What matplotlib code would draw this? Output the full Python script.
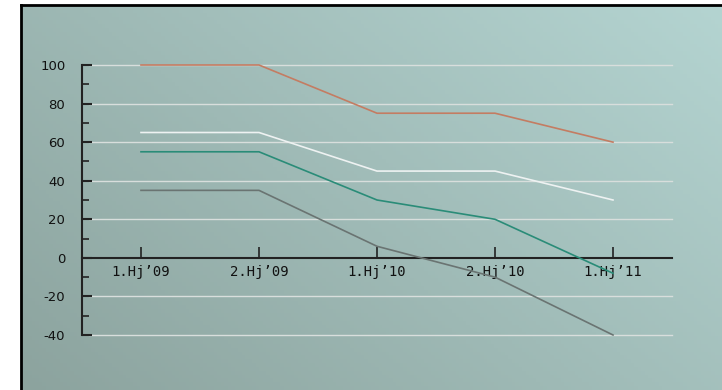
import matplotlib.pyplot as plt
import numpy as np

plt.rcParams["axes.unicode_minus"] = False

categories = ["1.Hj’09", "2.Hj’09", "1.Hj’10", "2.Hj’10", "1.Hj’11"]
orange = [100, 100, 75, 75, 60]
white = [65, 65, 45, 45, 30]
teal = [55, 55, 30, 20, -8]
gray = [35, 35, 6, -10, -40]

fig = plt.figure(figsize=(7.22, 3.9), dpi=100)
fig.patch.set_facecolor("white")

# gradient panel with black frame on left/top
bg = fig.add_axes([21 / 722, 0, 1 - 21 / 722, 385 / 390])
xx, yy = np.meshgrid(np.linspace(0, 1, 200), np.linspace(0, 1, 100))
t = (xx * 0.6 + yy * 0.4)
c0 = np.array([0x8c, 0xa3, 0x9e]) / 255
c1 = np.array([0xb4, 0xd4, 0xd1]) / 255
img = c0[None, None, :] * (1 - t[..., None]) + c1[None, None, :] * t[..., None]
bg.imshow(img, origin="lower", aspect="auto", extent=[0, 1, 0, 1])
bg.set_xticks([])
bg.set_yticks([])
for s in ["right", "bottom"]:
    bg.spines[s].set_visible(False)
for s in ["left", "top"]:
    bg.spines[s].set_linewidth(2)
    bg.spines[s].set_color("black")

ax = fig.add_axes([82 / 722, 55 / 390, 590 / 722, 270 / 390])
ax.patch.set_alpha(0)
x = np.arange(len(categories))

for v in [100, 80, 60, 40, 20, -20, -40]:
    ax.axhline(v, xmin=0.012, color="#d8dedc", lw=1.0, zorder=1, clip_on=False)

ax.plot(x, orange, color="#c47c62", lw=1.2, zorder=3, clip_on=False)
ax.plot(x, white, color="#eef2f2", lw=1.2, zorder=3, clip_on=False)
ax.plot(x, teal, color="#2a8c78", lw=1.2, zorder=3, clip_on=False)
ax.plot(x, gray, color="#6a7472", lw=1.2, zorder=3, clip_on=False)

ax.set_xlim(-0.5, 4.5)
ax.set_ylim(-40, 100)
ax.spines["right"].set_visible(False)
ax.spines["top"].set_visible(False)
ax.spines["bottom"].set_position(("data", 0))
ax.spines["left"].set_color("#222222")
ax.spines["bottom"].set_color("#222222")
ax.spines["left"].set_linewidth(1.5)
ax.spines["bottom"].set_linewidth(1.5)

ax.set_xticks(x)
ax.set_xticklabels(categories, family="DejaVu Sans Mono", fontsize=10, color="#111111")
ax.tick_params(axis="x", direction="in", length=8, width=1.2, color="#222222", pad=5)
ax.set_yticks([-40, -20, 0, 20, 40, 60, 80, 100])
ax.set_yticks([-30, -10, 10, 30, 50, 70, 90], minor=True)
ax.tick_params(axis="y", which="major", direction="in", length=7, width=1.5, color="#222222",
               labelsize=9.5, labelcolor="#111111", pad=12)
ax.tick_params(axis="y", which="minor", direction="in", length=5, width=1.2, color="#222222")

fig.savefig("out.png", dpi=100)
